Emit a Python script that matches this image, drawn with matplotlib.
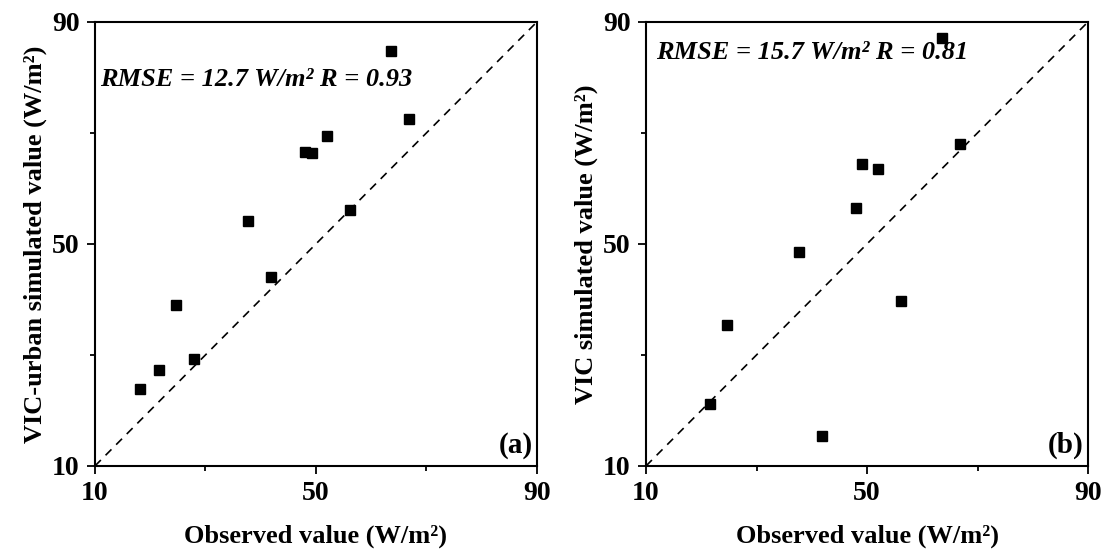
import numpy as np
import matplotlib.pyplot as plt

plt.rcParams['font.family'] = ['Liberation Serif', 'DejaVu Serif']
plt.rcParams['font.weight'] = 'bold'

# panel (a): VIC-urban
obs_a = [18.2, 21.5, 24.7, 28.0, 37.7, 41.8, 48.0, 49.2, 52.0, 56.2, 63.6, 66.8]
sim_a = [23.9, 27.2, 39.0, 29.3, 54.2, 44.0, 66.6, 66.3, 69.5, 56.1, 84.8, 72.5]

# panel (b): VIC
obs_b = [21.5, 24.7, 37.7, 41.8, 48.0, 49.1, 52.0, 56.1, 63.6, 66.8]
sim_b = [21.2, 35.4, 48.5, 15.3, 56.4, 64.4, 63.5, 39.7, 87.1, 68.0]

major_ticks = [10, 50, 90]
minor_ticks = [30, 70]

panels = [
    (obs_a, sim_a, 'VIC-urban simulated value (W/m²)',
     'RMSE = 12.7 W/m² R = 0.93', 0.012, 0.87, '(a)'),
    (obs_b, sim_b, 'VIC simulated value (W/m²)',
     'RMSE = 15.7 W/m² R = 0.81', 0.022, 0.932, '(b)'),
]

fig = plt.figure(figsize=(11.07, 5.6), dpi=100)
lefts = [0.0858, 0.5836]

for left, (obs, sim, ylab, stat, tx, ty, tag) in zip(lefts, panels):
    ax = fig.add_axes([left, 0.168, 0.3993, 0.793])
    ax.plot([10, 90], [10, 90], color='black', ls=(0, (5, 4)), lw=1.2)
    ax.plot(obs, sim, ls='none', marker='s', ms=7, color='black')
    ax.set_xlim(10, 90)
    ax.set_ylim(10, 90)
    ax.set_xticks(major_ticks)
    ax.set_yticks(major_ticks)
    ax.set_xticks(minor_ticks, minor=True)
    ax.set_yticks(minor_ticks, minor=True)
    ax.tick_params(which='major', direction='out', length=6, width=1.3,
                   labelsize=20, pad=5)
    ax.tick_params(which='minor', direction='out', length=3.5, width=1.3)
    for lab in ax.get_xticklabels() + ax.get_yticklabels():
        lab.set_fontweight('bold')
    for s in ax.spines.values():
        s.set_linewidth(1.5)
    ax.set_xlabel('Observed value (W/m²)', fontsize=19,
                  fontweight='bold', labelpad=13)
    ax.set_ylabel(ylab, fontsize=19, fontweight='bold', labelpad=4)
    ax.text(tx, ty, stat, transform=ax.transAxes,
            fontsize=19, fontweight='bold', fontstyle='italic',
            ha='left', va='center')
    ax.text(0.99, 0.015, tag, transform=ax.transAxes, fontsize=21,
            fontweight='bold', ha='right', va='bottom')

fig.savefig('out.png', dpi=100)
